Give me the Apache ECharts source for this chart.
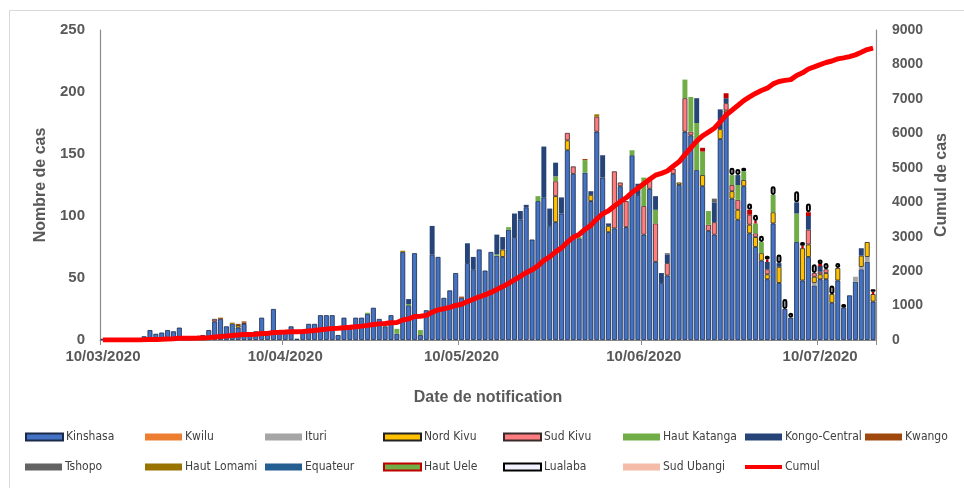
<!DOCTYPE html>
<html>
<head>
<meta charset="utf-8">
<script src="https://cdn.jsdelivr.net/npm/echarts@6/dist/echarts.min.js"></script>
<style>
  html, body { margin: 0; padding: 0; background: #fff; }
  #chart { width: 964px; height: 488px; }
</style>
</head>
<body>
<div id="chart"></div>
<script>
// ---- Data (daily notified cases, 10/03/2020 -> 19/07/2020) ----
const startDate = Date.UTC(2020, 2, 10);
const nDays = 132;
const categories = [];
for (let i = 0; i < nDays; i++) {
  const d = new Date(startDate + i * 86400000);
  const dd = String(d.getUTCDate()).padStart(2, '0');
  const mm = String(d.getUTCMonth() + 1).padStart(2, '0');
  categories.push(dd + '/' + mm + '/' + d.getUTCFullYear());
}

const kinshasa = [
  1,0,0,1,0,0,0,3,8,5,
  6,8,7,10,3,2,3,4,8,15,
  17,11,13,10,13,5,7,18,5,25,
  6,7,11,1,8,13,13,20,20,20,
  4,18,9,18,18,21,26,17,11,20,
  5,71,28,70,4,24,69,67,34,40,
  54,34,62,57,73,56,71,68,67,89,
  83,97,107,81,112,115,92,95,102,153,
  134,82,135,112,168,131,87,90,124,91,
  149,117,85,122,63,46,52,134,125,168,
  165,137,124,88,85,162,183,114,97,124,
  86,75,64,49,94,46,25,18,79,48,
  67,44,49,49,30,48,26,36,47,57,
  63,31
];
const kwilu = new Array(132).fill(0);
const ituri = [
  0,0,0,0,0,0,0,0,0,0, 0,0,0,0,0,0,0,0,0,0,
  0,0,0,0,0,0,0,0,0,0, 0,0,0,0,0,0,0,0,0,0,
  0,0,0,0,0,0,0,0,0,0, 0,0,0,0,0,0,0,0,0,0,
  0,0,0,0,0,0,0,0,0,0, 0,0,0,0,0,0,0,0,0,0,
  0,0,0,0,0,0,0,0,0,0, 0,0,0,0,0,0,0,0,0,0,
  0,0,0,0,0,0,0,0,0,0, 0,0,0,0,0,0,0,0,0,0,
  0,2,0,0,0,0,0,0,4,2,
  4,0
];
const nordKivu = [
  0,0,0,0,0,0,0,0,0,0, 0,0,0,0,0,0,0,0,0,0,
  0,0,0,2,0,0,0,0,0,0, 0,0,0,0,0,0,0,0,0,0,
  0,0,0,0,0,0,0,0,0,0, 0,0,0,0,0,0,0,0,0,0,
  0,0,0,0,0,0,0,0,6,0, 0,0,0,0,0,0,0,21,0,8,
  0,0,0,5,0,0,5,0,0,0, 0,0,0,0,0,0,0,0,2,0,
  0,0,9,0,0,8,2,6,8,5, 7,8,6,4,9,13,0,0,0,26,
  10,5,4,5,7,10,0,0,0,9,
  12,6
];
const sudKivu = [
  0,0,0,0,0,0,0,0,0,0, 0,0,0,0,0,0,0,0,0,2,
  0,0,0,0,1,0,0,0,0,0, 0,0,0,0,0,0,0,0,0,0,
  0,0,0,0,0,0,0,0,0,0, 0,0,0,0,0,0,0,0,0,0,
  0,0,0,0,0,0,0,0,0,0, 0,0,0,0,0,0,0,12,0,6,
  6,0,0,0,12,0,0,46,3,21, 0,0,23,7,31,0,10,4,0,27,
  3,0,0,5,10,0,6,5,8,0, 8,3,0,4,0,0,0,0,0,0,
  12,3,2,3,0,0,0,0,0,0,
  0,0
];
const hautKatanga = [
  0,0,0,0,0,0,0,0,0,0, 0,0,0,0,0,0,0,0,0,0,
  0,0,0,0,0,0,0,0,0,0, 0,0,0,0,0,0,0,0,0,0,
  0,0,0,0,0,1,0,0,0,0, 4,0,1,0,4,0,0,0,0,0,
  0,0,0,0,0,0,0,1,0,2, 0,0,0,0,4,0,0,4,0,0,
  0,1,10,0,0,0,0,0,0,0, 4,0,23,0,11,0,0,0,0,15,
  28,38,19,11,0,0,0,8,12,7, 0,8,9,0,14,0,0,0,23,0,
  0,0,0,0,0,0,0,0,0,0,
  0,0
];
const kongoCentral = [
  0,0,0,0,0,0,0,0,0,0, 0,0,0,0,0,0,0,0,0,0,
  0,0,0,0,0,0,0,0,0,0, 0,0,0,0,0,0,0,0,0,0,
  0,0,0,0,0,0,0,0,0,0, 0,0,4,0,0,0,23,0,0,0,
  0,0,16,10,0,0,0,16,10,0, 19,7,2,0,0,41,14,11,13,0,
  0,0,0,3,0,18,2,0,0,0, 0,9,0,0,11,8,7,0,0,0,
  0,20,0,0,16,16,4,0,8,0, 0,0,0,6,0,3,0,0,9,0,
  11,0,5,0,0,0,0,0,0,6,
  0,0
];
const kwango = [
  0,0,0,0,0,0,0,0,0,0, 0,0,0,0,0,0,0,0,0,0,
  1,0,0,1,1,0,0,0,0,0, 0,0,0,0,0,0,0,0,0,0,
  0,0,0,0,0,0,0,0,0,0, 0,0,0,0,0,0,0,0,0,0,
  0,1,0,0,0,0,0,0,0,0, 0,0,0,0,0,0,0,0,0,0,
  0,0,1,0,0,0,0,0,0,0, 0,0,0,0,0,0,0,0,0,0,
  0,0,0,0,0,0,0,0,0,0, 0,0,0,0,0,0,0,0,0,0,
  0,0,0,0,0,0,0,0,0,0,
  0,0
];
const tshopo = [
  0,0,0,0,0,0,0,0,0,0, 0,0,0,0,0,0,0,0,0,0,
  0,0,0,0,0,0,0,0,0,0, 0,0,0,0,0,0,0,0,0,0,
  0,0,0,0,0,0,0,0,0,0, 0,0,0,0,0,0,0,0,0,0,
  0,0,0,0,0,0,0,0,0,0, 0,0,0,0,0,0,0,0,0,0,
  0,0,0,0,0,0,0,0,0,0, 0,0,0,0,0,0,1,0,0,0,
  0,0,0,0,3,0,0,0,0,0, 0,0,0,0,0,0,0,0,0,0,
  0,0,0,0,0,0,0,0,0,0,
  0,0
];
const hautLomami = [
  0,0,0,0,0,0,0,0,0,0, 0,0,0,0,0,0,0,0,0,0,
  0,0,1,0,0,0,0,0,0,0, 0,0,0,0,0,0,0,0,0,0,
  0,0,0,0,0,0,0,0,0,0, 0,1,0,0,0,0,0,0,0,0,
  0,0,0,0,0,0,0,0,0,0, 0,0,0,0,0,0,0,0,0,0,
  0,0,0,0,2,0,0,0,0,0, 0,0,0,0,0,0,0,0,0,0,
  0,0,0,0,0,0,0,0,0,0, 0,0,0,0,0,0,0,0,0,0,
  0,0,0,0,0,0,0,0,0,0,
  0,0
];
const equateur = new Array(132).fill(0);
const hautUele = [
  0,0,0,0,0,0,0,0,0,0, 0,0,0,0,0,0,0,0,0,0,
  0,0,0,0,0,0,0,0,0,0, 0,0,0,0,0,0,0,0,0,0,
  0,0,0,0,0,0,0,0,0,0, 0,0,0,0,0,0,0,0,0,0,
  0,0,0,0,0,0,0,0,0,0, 0,0,0,0,0,0,0,0,0,0,
  0,0,0,0,0,0,0,0,0,0, 0,0,0,0,0,0,0,0,0,0,
  0,0,3,0,0,0,4,0,0,0, 4,2,0,2,0,0,0,0,0,2,
  3,0,1,0,0,0,0,0,0,0,
  0,2
];
const lualaba = [
  0,0,0,0,0,0,0,0,0,0, 0,0,0,0,0,0,0,0,0,0,
  0,0,0,0,0,0,0,0,0,0, 0,0,0,0,0,0,0,0,0,0,
  0,0,0,0,0,0,0,0,0,0, 0,0,0,0,0,0,0,0,0,0,
  0,0,0,0,0,0,0,0,0,0, 0,0,0,0,0,0,0,0,0,0,
  0,0,0,0,0,0,0,0,0,0, 0,0,0,0,0,0,0,0,0,0,
  0,0,0,0,0,0,0,6,5,3, 5,5,5,3,7,7,8,4,9,3,
  7,7,4,5,7,4,3,0,0,0,
  0,2
];
const sudUbangi = new Array(132).fill(0);

const provinceNames = ['Kinshasa','Kwilu','Ituri','Nord Kivu','Sud Kivu','Haut Katanga','Kongo-Central','Kwango',
  'Tshopo','Haut Lomami','Equateur','Haut Uele','Lualaba','Sud Ubangi'];
const provinceData = [kinshasa, kwilu, ituri, nordKivu, sudKivu, hautKatanga, kongoCentral, kwango,
  tshopo, hautLomami, equateur, hautUele, lualaba, sudUbangi];
const leftTicks = { min: 0, max: 250, interval: 50 };
const rightTicks = { min: 0, max: 9000, interval: 1000 };

// Cumulative = running total of all provinces' daily cases
const cumul = [];
let running = 0;
for (let i = 0; i < nDays; i++) {
  provinceData.forEach(arr => { running += arr[i]; });
  cumul.push(running);
}

// ---- Styles ----
const styles = {
  'Kinshasa':      { color: '#4472C4', borderColor: '#1b2a48', borderWidth: 0.8 },
  'Kwilu':         { color: '#ED7D31' },
  'Ituri':         { color: '#A5A5A5' },
  'Nord Kivu':     { color: '#FFC000', borderColor: '#222', borderWidth: 0.8 },
  'Sud Kivu':      { color: '#FF7C80', borderColor: '#3a2a2a', borderWidth: 0.8 },
  'Haut Katanga':  { color: '#70AD47' },
  'Kongo-Central': { color: '#264478' },
  'Kwango':        { color: '#9E480E' },
  'Tshopo':        { color: '#636363' },
  'Haut Lomami':   { color: '#997300' },
  'Equateur':      { color: '#255E91' },
  'Haut Uele':     { color: '#70AD47', borderColor: '#C00000', borderWidth: 2.5 },
  'Lualaba':       { color: '#F2F2FF', borderColor: '#000000', borderWidth: 2, borderRadius: 1.5 },
  'Sud Ubangi':    { color: '#F4BCA8' }
};

// zero days are not drawn (avoid border artefacts on empty segments)
const series = provinceNames.map((name, k) => ({
  name: name,
  type: 'bar',
  stack: 'cas',
  data: provinceData[k].map(v => (v === 0 ? '-' : v)),
  barCategoryGap: '16%',
  itemStyle: styles[name],
  emphasis: { disabled: true }
}));
series.push({
  name: 'Cumul',
  type: 'line',
  yAxisIndex: 1,
  data: cumul,
  showSymbol: false,
  symbol: 'none',
  lineStyle: { color: '#FF0000', width: 5 },
  itemStyle: { color: '#FF0000' },
  z: 10
});

// ---- Legends (grid of 8 columns x 2 rows) ----
const legendNames = provinceNames.concat(['Cumul']);
const colLeft = [25, 145, 265, 383, 503, 623, 745, 865];
const legends = legendNames.map((name, i) => ({
  data: [name],
  left: colLeft[i % 8],
  top: i < 8 ? 431 : 461,
  padding: 0,
  orient: 'horizontal',
  icon: 'rect',
  itemWidth: 37,
  itemHeight: name === 'Cumul' ? 4 : 7,
  selectedMode: false,
  textStyle: { fontFamily: 'Liberation Sans Narrow, DejaVu Sans Condensed, sans-serif', fontSize: 12, color: '#404040', padding: [0, 0, 0, -2] }
}));

const boldFont = 'Liberation Sans, Arial, sans-serif';
const option = {
  animation: false,
  backgroundColor: '#ffffff',
  grid: { left: 100, right: 88, top: 30, bottom: 148, containLabel: false },
  legend: legends,
  xAxis: {
    type: 'category',
    data: categories,
    boundaryGap: true,
    name: 'Date de notification',
    nameLocation: 'middle',
    nameGap: 50,
    nameTextStyle: { fontFamily: boldFont, fontWeight: 'bold', fontSize: 16, color: '#595959' },
    axisLine: { lineStyle: { color: '#8C8C8C', width: 1.2 } },
    axisTick: { show: true, interval: (i) => categories[i] && categories[i].startsWith('10/'), length: 5, lineStyle: { color: '#8C8C8C' } },
    axisLabel: {
      interval: (i) => categories[i].startsWith('10/'),
      fontFamily: boldFont, fontWeight: 'bold', fontSize: 15, color: '#595959', margin: 9
    },
    splitLine: { show: false }
  },
  yAxis: [
    {
      type: 'value', min: leftTicks.min, max: leftTicks.max, interval: leftTicks.interval,
      name: 'Nombre de cas', nameLocation: 'middle', nameGap: 40,
      nameTextStyle: { fontFamily: boldFont, fontWeight: 'bold', fontSize: 16, color: '#595959' },
      axisLine: { show: true, lineStyle: { color: '#8C8C8C', width: 1.2 } },
      axisTick: { show: false },
      axisLabel: { fontFamily: boldFont, fontWeight: 'bold', fontSize: 15, color: '#595959', margin: 15 },
      splitLine: { show: false }
    },
    {
      type: 'value', min: rightTicks.min, max: rightTicks.max, interval: rightTicks.interval,
      name: 'Cumul de cas', nameLocation: 'middle', nameGap: 58,
      nameTextStyle: { fontFamily: boldFont, fontWeight: 'bold', fontSize: 16, color: '#595959' },
      axisLine: { show: true, lineStyle: { color: '#8C8C8C', width: 1.2 } },
      axisTick: { show: false },
      axisLabel: { fontFamily: boldFont, fontWeight: 'bold', fontSize: 14, color: '#595959', margin: 16, formatter: (v) => String(v) },
      splitLine: { show: false }
    }
  ],
  graphic: [
    { type: 'line', shape: { x1: 9.5, y1: 10.5, x2: 964, y2: 10.5 }, style: { stroke: '#D9D9D9', lineWidth: 1 }, silent: true },
    { type: 'line', shape: { x1: 9.5, y1: 10.5, x2: 9.5, y2: 488 }, style: { stroke: '#D9D9D9', lineWidth: 1 }, silent: true }
  ],
  series: series
};

const chart = echarts.init(document.getElementById('chart'), null, { renderer: 'canvas' });
chart.setOption(option);
</script>
</body>
</html>
